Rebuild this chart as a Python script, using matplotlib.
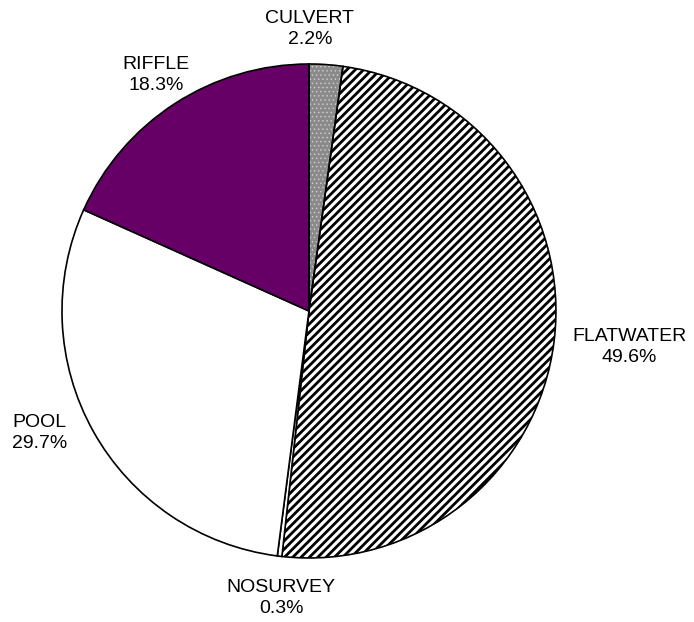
import matplotlib
matplotlib.use('Agg')
import matplotlib.pyplot as plt
from matplotlib.patches import Wedge

# reach types, clockwise from 12 o'clock
tipos = ['CULVERT', 'FLATWATER', 'NOSURVEY', 'POOL', 'RIFFLE']
porcentajes = [2.2, 49.6, 0.3, 29.7, 18.3]

colores = ['#8a8a8a', 'white', 'white', 'white', '#660066']
# label centres, in pie radii from the centre
pos_etiquetas = [(0.004, 1.142), (1.296, -0.146), (-0.113, -1.162),
                 (-1.091, -0.494), (-0.619, 0.955)]

plt.rcParams['hatch.linewidth'] = 2.0
plt.rcParams['font.family'] = ['Liberation Sans', 'DejaVu Sans']

fig = plt.figure(figsize=(6.94, 6.22), dpi=100)
ax = fig.add_axes([0, 0, 1, 1])

wedges, _ = ax.pie(porcentajes, colors=colores, startangle=90, counterclock=False,
                   radius=1.0, wedgeprops=dict(edgecolor='black', linewidth=1.2))

# flatwater: diagonal stripes
wedges[1].set_hatch('////')

# culvert: gray with a fine light dot pattern, outline drawn on top
culv = wedges[0]
culv.set_hatch('....')
culv.set_edgecolor('#d0d0d0')
if hasattr(culv, 'set_hatch_linewidth'):
    culv.set_hatch_linewidth(0.5)
ax.add_patch(Wedge(culv.center, culv.r, culv.theta1, culv.theta2,
                   facecolor='none', edgecolor='black', linewidth=1.2, zorder=culv.get_zorder() + 0.5))

for (x, y), tipo, pct in zip(pos_etiquetas, tipos, porcentajes):
    ax.text(x, y, f'{tipo}\n{pct:.1f}%', ha='center', va='center',
            fontsize=14, linespacing=1.35)

ax.set_xlim(-1.251, 1.559)
ax.set_ylim(-1.259, 1.259)
ax.axis('off')

fig.savefig('out.png', dpi=100)
plt.close(fig)
